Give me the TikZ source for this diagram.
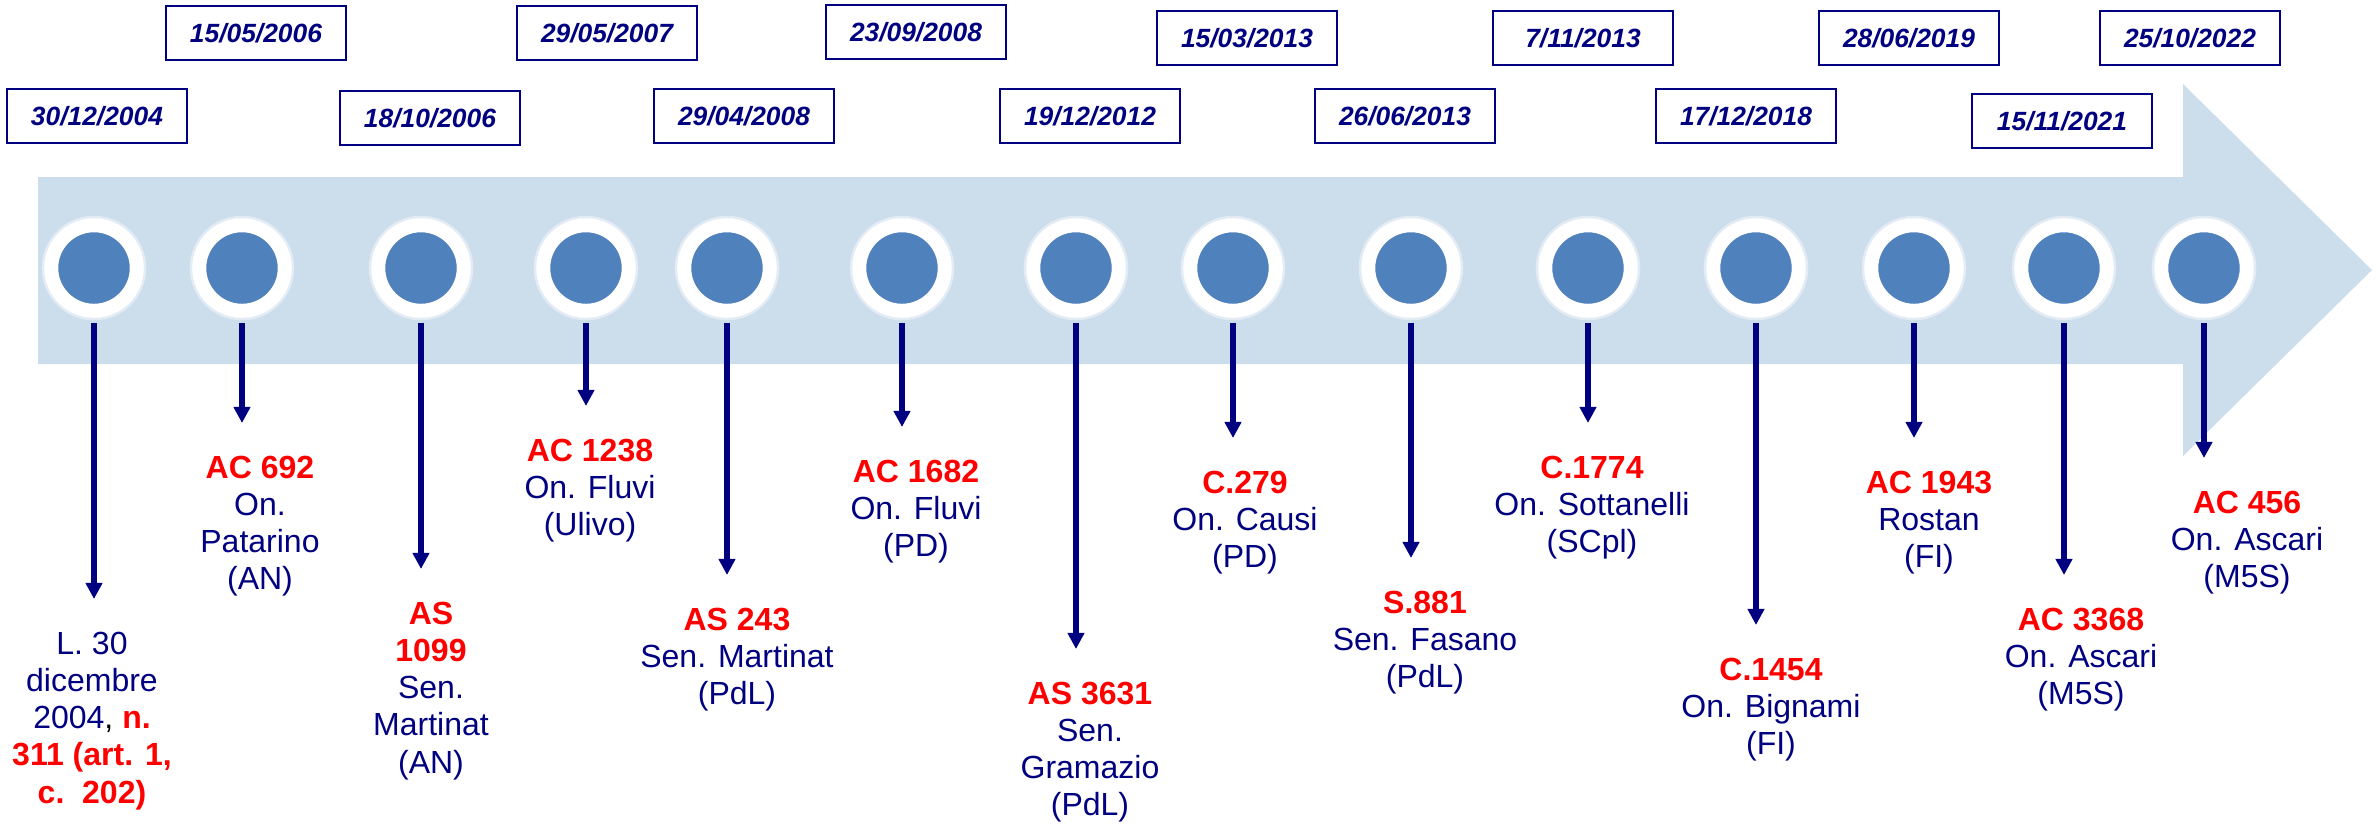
\documentclass[tikz,border=0pt]{standalone}
\usepackage{fontspec}
\setmainfont{Liberation Sans}
\usetikzlibrary{arrows.meta}
\definecolor{band}{RGB}{204,221,236}
\definecolor{dotblue}{RGB}{79,129,189}
\definecolor{navy}{RGB}{0,0,128}
\newcommand{\billno}[1]{{\bfseries\color{red}#1}}
\begin{document}
\begin{tikzpicture}[x=0.01cm,y=-0.01cm,
    dot/.style={circle,fill=dotblue,draw=white,line width=0.14cm,minimum size=0.855cm,inner sep=0pt,
        preaction={draw=white,draw opacity=0.45,line width=0.19cm}},
    datebox/.style={draw=navy,line width=0.8pt,fill=white,minimum width=1.8cm,minimum height=0.54cm,inner sep=0pt,text=navy,font=\fontsize{7.5pt}{9pt}\selectfont\bfseries\itshape},
    lbl/.style={anchor=north,align=center,inner sep=0pt,text=navy,font=\fontsize{9.1pt}{10.6pt}\selectfont},
    evt/.style={draw=navy,line width=1.6pt,-{Triangle[length=1.6mm,width=1.6mm]},shorten <=0.05cm,shorten >=0.32cm}]
        \useasboundingbox (0,0) rectangle (2377,832);
        \fill[band] (38,177) -- (2183,177) -- (2183,84) -- (2372,270) -- (2183,456) -- (2183,364) -- (38,364) -- cycle;
        % dates
        \node[datebox] (dt1) at (97,116) {30/12/2004};
        \node[datebox] (dt2) at (256,33) {15/05/2006};
        \node[datebox] (dt3) at (430,118) {18/10/2006};
        \node[datebox] (dt4) at (607,33) {29/05/2007};
        \node[datebox] (dt5) at (744,116) {29/04/2008};
        \node[datebox] (dt6) at (916,32) {23/09/2008};
        \node[datebox] (dt7) at (1090,116) {19/12/2012};
        \node[datebox] (dt8) at (1247,38) {15/03/2013};
        \node[datebox] (dt9) at (1405,116) {26/06/2013};
        \node[datebox] (dt10) at (1583,38) {7/11/2013};
        \node[datebox] (dt11) at (1746,116) {17/12/2018};
        \node[datebox] (dt12) at (1909,38) {28/06/2019};
        \node[datebox] (dt13) at (2062,121) {15/11/2021};
        \node[datebox] (dt14) at (2190,38) {25/10/2022};
        % dots on the band
        \node[dot] (d1) at (94,268) {};
        \node[dot] (d2) at (242,268) {};
        \node[dot] (d3) at (421,268) {};
        \node[dot] (d4) at (586,268) {};
        \node[dot] (d5) at (727,268) {};
        \node[dot] (d6) at (902,268) {};
        \node[dot] (d7) at (1076,268) {};
        \node[dot] (d8) at (1233,268) {};
        \node[dot] (d9) at (1411,268) {};
        \node[dot] (d10) at (1588,268) {};
        \node[dot] (d11) at (1756,268) {};
        \node[dot] (d12) at (1914,268) {};
        \node[dot] (d13) at (2064,268) {};
        \node[dot] (d14) at (2204,268) {};
        % bills
        \node[lbl] (l1) at (92,631) {L. 30\\dicembre\\2004{\color{black},} \billno{n.}\\\billno{311 (art. 1,}\\\billno{c.~~202)}};
        \node[lbl] (l2) at (260,455) {\billno{AC 692}\\On.\\Patarino\\(AN)};
        \node[lbl] (l3) at (431,601) {\billno{AS}\\\billno{1099}\\Sen.\\Martinat\\(AN)};
        \node[lbl] (l4) at (590,438) {\billno{AC 1238}\\On. Fluvi\\(Ulivo)};
        \node[lbl] (l5) at (737,607) {\billno{AS 243}\\Sen. Martinat\\(PdL)};
        \node[lbl] (l6) at (916,459) {\billno{AC 1682}\\On. Fluvi\\(PD)};
        \node[lbl] (l7) at (1090,681) {\billno{AS 3631}\\Sen.\\Gramazio\\(PdL)};
        \node[lbl] (l8) at (1245,470) {\billno{C.279}\\On. Causi\\(PD)};
        \node[lbl] (l9) at (1425,590) {\billno{S.881}\\Sen. Fasano\\(PdL)};
        \node[lbl] (l10) at (1592,455) {\billno{C.1774}\\On. Sottanelli\\(SCpl)};
        \node[lbl] (l11) at (1771,657) {\billno{C.1454}\\On. Bignami\\(FI)};
        \node[lbl] (l12) at (1929,470) {\billno{AC 1943}\\Rostan\\(FI)};
        \node[lbl] (l13) at (2081,607) {\billno{AC 3368}\\On. Ascari\\(M5S)};
        \node[lbl] (l14) at (2247,490) {\billno{AC 456}\\On. Ascari\\(M5S)};
        % arrows
        \draw[evt] (d1.south) -- (d1.south |- l1.north);
        \draw[evt] (d2.south) -- (d2.south |- l2.north);
        \draw[evt] (d3.south) -- (d3.south |- l3.north);
        \draw[evt] (d4.south) -- (d4.south |- l4.north);
        \draw[evt] (d5.south) -- (d5.south |- l5.north);
        \draw[evt] (d6.south) -- (d6.south |- l6.north);
        \draw[evt] (d7.south) -- (d7.south |- l7.north);
        \draw[evt] (d8.south) -- (d8.south |- l8.north);
        \draw[evt] (d9.south) -- (d9.south |- l9.north);
        \draw[evt] (d10.south) -- (d10.south |- l10.north);
        \draw[evt] (d11.south) -- (d11.south |- l11.north);
        \draw[evt] (d12.south) -- (d12.south |- l12.north);
        \draw[evt] (d13.south) -- (d13.south |- l13.north);
        \draw[evt] (d14.south) -- (d14.south |- l14.north);
\end{tikzpicture}
\end{document}
